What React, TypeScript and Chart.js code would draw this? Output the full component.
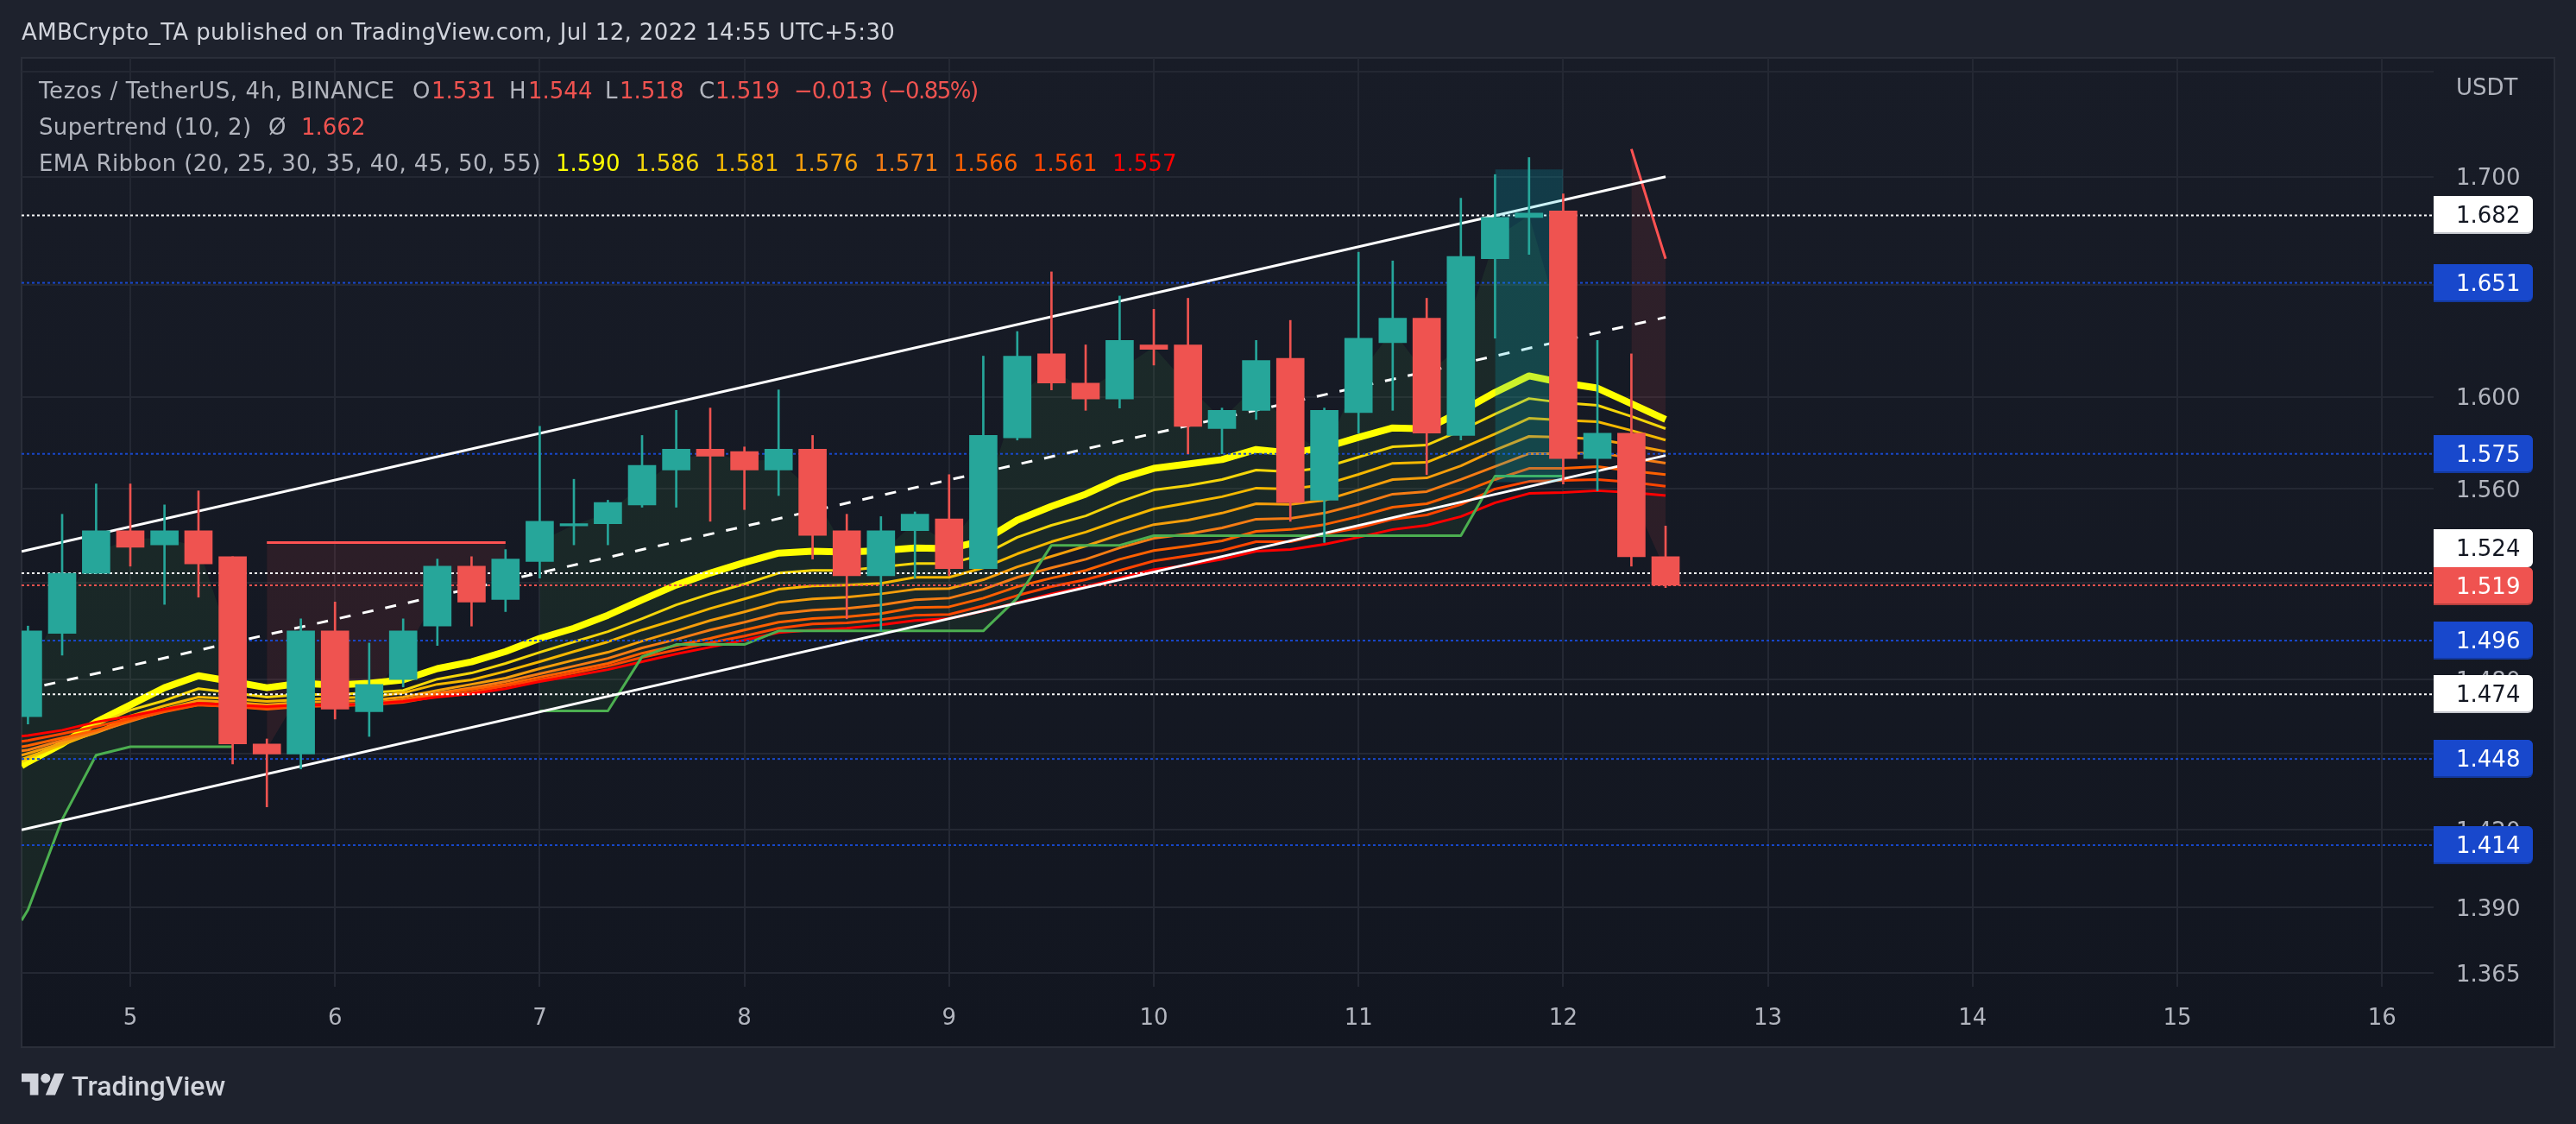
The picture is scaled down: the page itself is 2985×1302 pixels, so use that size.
import { useEffect, useRef } from "react";
import { Chart, registerables } from "chart.js";

Chart.register(...registerables);

const W = 2985;
const H = 1302;
const FONT = '"DejaVu Sans", sans-serif';

// 4h bars, in days of the month
const barDays = [
  4.5, 4.667, 4.833, 5, 5.167, 5.333, 5.5, 5.667, 5.833, 6, 6.167, 6.333, 6.5, 6.667, 6.833, 7, 7.167, 7.333, 7.5, 7.667,
  7.833, 8, 8.167, 8.333, 8.5, 8.667, 8.833, 9, 9.167, 9.333, 9.5, 9.667, 9.833, 10, 10.167, 10.333, 10.5, 10.667, 10.833,
  11, 11.167, 11.333, 11.5, 11.667, 11.833, 12, 12.167, 12.333, 12.5,
];
const opens = [
  1.465, 1.499, 1.524, 1.542, 1.536, 1.542, 1.531, 1.454, 1.45, 1.5, 1.467, 1.48, 1.502, 1.527, 1.513, 1.529, 1.544, 1.545,
  1.553, 1.568, 1.577, 1.576, 1.568, 1.577, 1.542, 1.523, 1.542, 1.547, 1.526, 1.582, 1.619, 1.606, 1.599, 1.623, 1.623,
  1.586, 1.594, 1.617, 1.555, 1.593, 1.624, 1.635, 1.583, 1.662, 1.681, 1.684, 1.573, 1.584, 1.531,
];
const highs = [
  1.502, 1.549, 1.562, 1.562, 1.553, 1.559, 1.531, 1.456, 1.505, 1.512, 1.495, 1.505, 1.53, 1.531, 1.534, 1.587, 1.564, 1.555,
  1.583, 1.594, 1.595, 1.578, 1.603, 1.583, 1.549, 1.548, 1.55, 1.566, 1.618, 1.629, 1.656, 1.623, 1.645, 1.639, 1.644,
  1.595, 1.625, 1.634, 1.595, 1.665, 1.661, 1.644, 1.69, 1.701, 1.709, 1.692, 1.625, 1.619, 1.544,
];
const lows = [
  1.462, 1.49, 1.524, 1.527, 1.511, 1.514, 1.446, 1.429, 1.444, 1.464, 1.457, 1.477, 1.494, 1.502, 1.508, 1.522, 1.536, 1.536,
  1.552, 1.552, 1.546, 1.551, 1.557, 1.53, 1.505, 1.5, 1.522, 1.523, 1.526, 1.581, 1.603, 1.594, 1.595, 1.614, 1.575, 1.575,
  1.59, 1.546, 1.537, 1.584, 1.594, 1.566, 1.581, 1.626, 1.664, 1.562, 1.559, 1.527, 1.518,
];
const closes = [
  1.5, 1.524, 1.542, 1.535, 1.542, 1.528, 1.454, 1.45, 1.5, 1.468, 1.478, 1.5, 1.527, 1.512, 1.53, 1.546, 1.545, 1.554, 1.57,
  1.577, 1.574, 1.568, 1.577, 1.54, 1.523, 1.542, 1.549, 1.526, 1.583, 1.618, 1.606, 1.599, 1.625, 1.621, 1.587, 1.594,
  1.616, 1.554, 1.594, 1.626, 1.635, 1.584, 1.663, 1.681, 1.683, 1.573, 1.584, 1.531, 1.519,
];

// line series start one point earlier, right on the left edge of the pane
const lineDays = [4.469, ...barDays];

const ema20 = [
  1.4453, 1.4468, 1.454, 1.4628, 1.4697, 1.4767, 1.4816, 1.4792, 1.4767, 1.4785, 1.4778, 1.4785, 1.4799, 1.4845, 1.4873,
  1.4915, 1.4969, 1.5011, 1.5065, 1.5129, 1.5191, 1.5241, 1.5285, 1.5325, 1.5333, 1.5329, 1.5336, 1.5347, 1.5344, 1.5377,
  1.5465, 1.5524, 1.5576, 1.5643, 1.5687, 1.5706, 1.5725, 1.5769, 1.5754, 1.5777, 1.5822, 1.5863, 1.5859, 1.5935, 1.6019,
  1.6092, 1.6061, 1.6038, 1.5969, 1.59,
];
const ema25 = [
  1.4468, 1.4478, 1.454, 1.4617, 1.4676, 1.4715, 1.4763, 1.4746, 1.4729, 1.4739, 1.4739, 1.4746, 1.4756, 1.4802, 1.4827,
  1.4866, 1.4912, 1.4955, 1.4997, 1.5051, 1.5108, 1.5154, 1.5195, 1.5241, 1.5252, 1.5252, 1.5267, 1.5281, 1.5281, 1.5318,
  1.5392, 1.5443, 1.5483, 1.5543, 1.5594, 1.5613, 1.5639, 1.568, 1.5672, 1.5691, 1.5736, 1.5781, 1.5788, 1.5852, 1.5924,
  1.5992, 1.5973, 1.5962, 1.5913, 1.586,
];
const ema30 = [
  1.4478, 1.4488, 1.4536, 1.4588, 1.4652, 1.4694, 1.4729, 1.4722, 1.4711, 1.4718, 1.4725, 1.4729, 1.4746, 1.4781, 1.4799,
  1.4834, 1.4873, 1.4915, 1.4955, 1.5004, 1.5047, 1.5093, 1.5133, 1.5173, 1.5187, 1.5191, 1.5198, 1.5223, 1.5223, 1.5263,
  1.5322, 1.5373, 1.5414, 1.5465, 1.5513, 1.5539, 1.5565, 1.5602, 1.5598, 1.5617, 1.5661, 1.5709, 1.5713, 1.5773, 1.5837,
  1.5905, 1.5897, 1.589, 1.5852, 1.581,
];
const ema35 = [
  1.4495, 1.4502, 1.4543, 1.4585, 1.4635, 1.468, 1.4715, 1.4708, 1.4697, 1.4708, 1.4711, 1.4715, 1.4729, 1.4756, 1.4781,
  1.4806, 1.4845, 1.488, 1.4912, 1.4958, 1.5, 1.5043, 1.5079, 1.5118, 1.5133, 1.514, 1.5154, 1.5173, 1.5176, 1.5213, 1.5267,
  1.5311, 1.5355, 1.5403, 1.5446, 1.5465, 1.5495, 1.5535, 1.5532, 1.555, 1.5594, 1.5639, 1.5646, 1.5698, 1.5766, 1.5826,
  1.5822, 1.5814, 1.5788, 1.576,
];
const ema40 = [
  1.4512, 1.4516, 1.4554, 1.4588, 1.4631, 1.4673, 1.4704, 1.4697, 1.469, 1.4697, 1.4697, 1.4704, 1.4718, 1.4746, 1.4767,
  1.4792, 1.4824, 1.4855, 1.4887, 1.493, 1.4965, 1.5004, 1.5036, 1.5072, 1.5086, 1.5093, 1.5108, 1.5129, 1.5136, 1.5173,
  1.5223, 1.5263, 1.5299, 1.5347, 1.5388, 1.5406, 1.5432, 1.5469, 1.5472, 1.5495, 1.5532, 1.5576, 1.5587, 1.5639, 1.5695,
  1.5751, 1.5751, 1.5755, 1.5732, 1.571,
];
const ema45 = [
  1.4529, 1.4533, 1.4564, 1.4595, 1.4635, 1.4669, 1.4697, 1.469, 1.468, 1.469, 1.4694, 1.4701, 1.4715, 1.4742, 1.476, 1.4781,
  1.481, 1.4838, 1.4866, 1.4908, 1.494, 1.4969, 1.5004, 1.5036, 1.5051, 1.5058, 1.5072, 1.5097, 1.51, 1.5136, 1.5184, 1.522,
  1.5252, 1.5299, 1.5336, 1.5355, 1.5377, 1.5417, 1.5425, 1.5446, 1.548, 1.552, 1.5535, 1.5583, 1.5639, 1.5687, 1.5687,
  1.5695, 1.5676, 1.566,
];
const ema50 = [
  1.455, 1.4554, 1.4581, 1.461, 1.4642, 1.4673, 1.4697, 1.469, 1.4683, 1.4694, 1.4694, 1.4697, 1.4708, 1.4732, 1.4749, 1.4774,
  1.4799, 1.4827, 1.4855, 1.4891, 1.4922, 1.4951, 1.4979, 1.5011, 1.5029, 1.5033, 1.5047, 1.5065, 1.5068, 1.5104, 1.5147,
  1.5184, 1.5213, 1.5252, 1.5292, 1.5314, 1.5336, 1.5373, 1.5373, 1.5406, 1.5432, 1.5469, 1.5487, 1.5532, 1.5598, 1.5631,
  1.5635, 1.5639, 1.5628, 1.561,
];
const ema55 = [
  1.4571, 1.4574, 1.4595, 1.4628, 1.4652, 1.468, 1.4704, 1.4697, 1.469, 1.4697, 1.4697, 1.4701, 1.4711, 1.4729, 1.4742, 1.4763,
  1.4792, 1.4816, 1.4841, 1.4873, 1.4905, 1.4933, 1.4962, 1.4993, 1.5004, 1.5011, 1.5025, 1.5043, 1.5051, 1.5082, 1.5118,
  1.5154, 1.5184, 1.522, 1.5256, 1.5274, 1.5299, 1.5333, 1.534, 1.5362, 1.5392, 1.5425, 1.5443, 1.548, 1.5539, 1.5579, 1.5583,
  1.5591, 1.5583, 1.557,
];
const emaSeries = [ema20, ema25, ema30, ema35, ema40, ema45, ema50, ema55];
const emaColors = ["#ffff00", "#f5d60a", "#f5b800", "#f59e0b", "#f57c14", "#ff6000", "#ff4500", "#ff0000"];

const n = null;
const supertrendUp = [
  1.385, 1.389, 1.424, 1.4495, 1.4529, 1.4529, 1.4529, 1.4529, n, n, n, n, n, n, n, n, 1.4673, 1.4673, 1.4673, 1.4894, 1.4944,
  1.4944, 1.4944, 1.5, 1.5, 1.5, 1.5, 1.5, 1.5, 1.5, 1.5136, 1.5358, 1.5358, 1.5358, 1.5399, 1.5399, 1.5399, 1.5399, 1.5399,
  1.5399, 1.5399, 1.5399, 1.5399, 1.5399, 1.5654, 1.5654, 1.5654, n, n, n,
].slice(0, 50);
const supertrendDown = [
  n, n, n, n, n, n, n, n, 1.537, 1.537, 1.537, 1.537, 1.537, 1.537, 1.537, 1.537, n, n, n, n, n, n, n, n, n, n, n, n, n, n, n, n,
  n, n, n, n, n, n, n, n, n, n, n, n, n, n, n, n, 1.713, 1.662,
];

// drawings on the chart
const channelDays = [4.469, 12.5];
const channelTop = [1.5332, 1.7];
const channelMid = [1.4756, 1.6354];
const channelBottom = [1.42, 1.5743];
const boxDays = [11.667, 12];
const boxTop = [1.7034, 1.7034];
const boxBottom = [1.5628, 1.5628];

const whiteLevels = [1.682, 1.524, 1.474];
const blueLevels = [1.651, 1.575, 1.496, 1.448, 1.414];
const lastPrice = [1.519];

const yTicks = [1.75, 1.7, 1.65, 1.6, 1.56, 1.52, 1.48, 1.45, 1.42, 1.39, 1.365];
const xTicks = [5, 6, 7, 8, 9, 10, 11, 12, 13, 14, 15, 16];

// shift: tradingview pushes overlapping labels apart
const priceTags = [
  { value: 1.682, bg: "#ffffff", lip: "#c4c6cc", fg: "#131722", shift: 0 },
  { value: 1.651, bg: "#1848cc", lip: "#13399f", fg: "#ffffff", shift: 0 },
  { value: 1.575, bg: "#1848cc", lip: "#13399f", fg: "#ffffff", shift: 0 },
  { value: 1.524, bg: "#ffffff", lip: "#ffffff", fg: "#131722", shift: -29 },
  { value: 1.519, bg: "#ef5350", lip: "#b5403e", fg: "#ffffff", shift: 1 },
  { value: 1.496, bg: "#1848cc", lip: "#13399f", fg: "#ffffff", shift: 0 },
  { value: 1.474, bg: "#ffffff", lip: "#c4c6cc", fg: "#131722", shift: 0 },
  { value: 1.448, bg: "#1848cc", lip: "#13399f", fg: "#ffffff", shift: 0 },
  { value: 1.414, bg: "#1848cc", lip: "#13399f", fg: "#ffffff", shift: 0 },
];

const GRAY = "#b2b5be";
const RED = "#ef5350";
const legendRows = [
  [
    { t: "Tezos / TetherUS, 4h, BINANCE", c: GRAY, x: 45, ls: 0.6 },
    { t: "O", c: GRAY, x: 478, ls: 0 },
    { t: "1.531", c: RED, x: 500, ls: 0 },
    { t: "H", c: GRAY, x: 590, ls: 0 },
    { t: "1.544", c: RED, x: 612, ls: 0 },
    { t: "L", c: GRAY, x: 701, ls: 0 },
    { t: "1.518", c: RED, x: 718, ls: 0 },
    { t: "C", c: GRAY, x: 810, ls: 0 },
    { t: "1.519", c: RED, x: 829, ls: 0 },
    { t: "−0.013", c: RED, x: 920, ls: -1 },
    { t: "(−0.85%)", c: RED, x: 1020, ls: -1.5 },
  ],
  [
    { t: "Supertrend (10, 2)", c: GRAY, x: 45, ls: 0.35 },
    { t: "Ø", c: GRAY, x: 311, ls: 0 },
    { t: "1.662", c: RED, x: 349, ls: 0 },
  ],
  [
    { t: "EMA Ribbon (20, 25, 30, 35, 40, 45, 50, 55)", c: GRAY, x: 45, ls: 0.4 },
    { t: "1.590", c: emaColors[0], x: 644, ls: 0 },
    { t: "1.586", c: emaColors[1], x: 736, ls: 0 },
    { t: "1.581", c: emaColors[2], x: 828, ls: 0 },
    { t: "1.576", c: emaColors[3], x: 920, ls: 0 },
    { t: "1.571", c: emaColors[4], x: 1013, ls: 0 },
    { t: "1.566", c: emaColors[5], x: 1105, ls: 0 },
    { t: "1.561", c: emaColors[6], x: 1197, ls: 0 },
    { t: "1.557", c: emaColors[7], x: 1289, ls: 0 },
  ],
];

const pts = (xs: number[], ys: (number | null)[]) => xs.map((x, i) => ({ x, y: ys[i] }));
const flat = (v: number) => [v, v];

const framePlugin = {
  id: "frame",
  beforeDraw(chart: any) {
    const { ctx } = chart;
    ctx.save();
    ctx.fillStyle = "#1e222d";
    ctx.fillRect(0, 0, W, H);
    const g = ctx.createLinearGradient(0, 67, 0, 1213);
    g.addColorStop(0, "#181c27");
    g.addColorStop(1, "#121620");
    ctx.fillStyle = g;
    ctx.fillRect(25, 67, 2935, 1146);
    ctx.strokeStyle = "#2a2e39";
    ctx.lineWidth = 2;
    ctx.strokeRect(25, 67, 2935, 1146);
    ctx.restore();
  },
};

const tagsPlugin = {
  id: "tags",
  afterDraw(chart: any) {
    const { ctx, scales } = chart;
    ctx.save();
    priceTags.forEach((t) => {
      const y = Math.round(scales.y.getPixelForValue(t.value)) + t.shift;
      ctx.fillStyle = t.lip;
      ctx.beginPath();
      ctx.roundRect(2820, y - 22, 115, 44, [0, 6, 6, 0]);
      ctx.fill();
      ctx.fillStyle = t.bg;
      ctx.beginPath();
      ctx.roundRect(2820, y - 22, 115, 42, [0, 6, 6, 0]);
      ctx.fill();
      ctx.fillStyle = t.fg;
      ctx.font = `26px ${FONT}`;
      ctx.textAlign = "left";
      ctx.textBaseline = "middle";
      ctx.fillText(t.value.toFixed(3), 2846, y + 2);
    });
    ctx.restore();
  },
};

export default function App() {
  const canvasRef = useRef<HTMLCanvasElement>(null);

  useEffect(() => {
    if (!canvasRef.current) return;
    const line = (xs: number[], ys: (number | null)[], extra: any) => ({
      type: "line",
      data: pts(xs, ys),
      pointRadius: 0,
      tension: 0,
      fill: false,
      borderJoinStyle: "round",
      ...extra,
    });
    const mids = opens.map((o, i) => (o + closes[i]) / 2);
    const midLine = [mids[0], ...mids];

    // index 0 is the body midline the supertrend fills reach up to
    const datasets: any[] = [
      line(lineDays, midLine, { borderWidth: 0, borderColor: "transparent", order: 90 }),
      line(lineDays, supertrendUp, {
        borderWidth: 0,
        borderColor: "transparent",
        fill: { target: 0, above: "rgba(76,175,80,0.1)", below: "rgba(76,175,80,0.1)" },
        order: 89,
      }),
      line(lineDays, supertrendDown, {
        borderWidth: 0,
        borderColor: "transparent",
        fill: { target: 0, above: "rgba(255,82,82,0.1)", below: "rgba(255,82,82,0.1)" },
        order: 88,
      }),
    ];
    emaSeries
      .slice()
      .reverse()
      .forEach((s, i) => {
        const idx = emaSeries.length - 1 - i;
        datasets.push(
          line(lineDays, s, { borderColor: emaColors[idx], borderWidth: idx === 0 ? 8 : 3, order: 60 + i })
        );
      });
    datasets.push(line(lineDays, supertrendUp, { borderColor: "#4caf50", borderWidth: 3, order: 50 }));
    datasets.push(line(lineDays, supertrendDown, { borderColor: "#ff5252", borderWidth: 3, order: 50 }));

    const paneEdges = [4.4688, 16.252];
    blueLevels.forEach((v) =>
      datasets.push(line(paneEdges, flat(v), { borderColor: "#1848cc", borderWidth: 2, borderDash: [3, 3], order: 40 }))
    );
    whiteLevels.forEach((v) =>
      datasets.push(line(paneEdges, flat(v), { borderColor: "#ffffff", borderWidth: 2, borderDash: [3, 3], order: 40 }))
    );
    lastPrice.forEach((v) =>
      datasets.push(line(paneEdges, flat(v), { borderColor: "#ef5350", borderWidth: 2, borderDash: [3, 3], order: 40 }))
    );

    datasets.push(line(channelDays, channelTop, { borderColor: "#ffffff", borderWidth: 3, order: 30 }));
    datasets.push(line(channelDays, channelBottom, { borderColor: "#ffffff", borderWidth: 3, order: 30 }));
    datasets.push(
      line(channelDays, channelMid, { borderColor: "#ffffff", borderWidth: 3, borderDash: [13, 14], order: 30 })
    );

    const boxBottomIndex = datasets.length;
    datasets.push(line(boxDays, boxBottom, { borderWidth: 0, borderColor: "transparent", order: 20 }));
    datasets.push(
      line(boxDays, boxTop, {
        borderWidth: 0,
        borderColor: "transparent",
        fill: { target: boxBottomIndex, above: "rgba(0,188,212,0.2)", below: "rgba(0,188,212,0.2)" },
        order: 20,
      })
    );

    const candleColors = opens.map((o, i) => (closes[i] >= o ? "#26a69a" : "#ef5350"));
    datasets.push({
      type: "bar",
      data: barDays.map((x, i) => ({ x, y: [lows[i], highs[i]] })),
      backgroundColor: candleColors,
      barThickness: 2,
      grouped: false,
      order: 2,
    });
    datasets.push({
      type: "bar",
      data: barDays.map((x, i) => ({ x, y: [opens[i], closes[i]] })),
      backgroundColor: candleColors,
      barThickness: 32,
      grouped: false,
      order: 1,
    });

    const chart = new Chart(canvasRef.current, {
      type: "bar",
      data: { datasets },
      plugins: [framePlugin, tagsPlugin],
      options: {
        animation: false,
        responsive: false,
        devicePixelRatio: 1,
        layout: { padding: { left: 25, top: 67, right: 25, bottom: 89 } },
        plugins: { legend: { display: false }, tooltip: { enabled: false }, title: { display: false } },
        scales: {
          x: {
            type: "linear",
            min: 4.4688,
            max: 16.252,
            offset: false,
            grid: { offset: false, color: "#242833", lineWidth: 2, drawTicks: false },
            border: { display: false },
            afterFit: (s: any) => {
              s.height = 70;
            },
            afterBuildTicks: (s: any) => {
              s.ticks = xTicks.map((value) => ({ value }));
            },
            ticks: {
              autoSkip: false,
              maxRotation: 0,
              color: GRAY,
              font: { family: FONT, size: 26 },
              padding: 22,
              callback: (v: any) => String(v),
            },
          },
          y: {
            type: "logarithmic",
            position: "right",
            min: 1.3599,
            max: 1.7566,
            grid: { color: "#242833", lineWidth: 2, drawTicks: false },
            border: { display: false },
            afterFit: (s: any) => {
              s.width = 140;
            },
            afterBuildTicks: (s: any) => {
              s.ticks = yTicks.map((value) => ({ value }));
            },
            ticks: {
              autoSkip: false,
              color: GRAY,
              font: { family: FONT, size: 26 },
              padding: 26,
              labelOffset: 3,
              callback: (v: any) => (v === 1.75 ? "" : Number(v).toFixed(3)),
            },
          },
        },
      },
    } as any);

    return () => {
      chart.destroy();
    };
  }, []);

  const txt = (left: number, top: number, size: number, color: string): React.CSSProperties => ({
    position: "absolute",
    left,
    top,
    fontFamily: FONT,
    fontSize: size,
    color,
    whiteSpace: "pre",
    lineHeight: 1,
  });

  return (
    <div style={{ position: "absolute", left: 0, top: 0, width: W, height: H, overflow: "hidden" }}>
      <canvas ref={canvasRef} width={W} height={H} style={{ display: "block", width: W, height: H }}></canvas>
      <div style={{ ...txt(25, 24, 26, "#d1d4dc"), letterSpacing: 0.37 }}>
        AMBCrypto_TA published on TradingView.com, Jul 12, 2022 14:55 UTC+5:30
      </div>
      {legendRows.map((row, r) =>
        row.map((p, i) => (
          <div key={r + "-" + i} style={{ ...txt(p.x, 92 + r * 42, 26, p.c), letterSpacing: p.ls }}>
            {p.t}
          </div>
        ))
      )}
      <div style={txt(2846, 88, 26, GRAY)}>USDT</div>
      <svg style={{ position: "absolute", left: 25, top: 1238 }} width="50" height="39" viewBox="0 0 36 28">
        <path fill="#d1d4dc" d="M14 22H7V11H0V4h14v18zM28 22h-8l7.5-18h8L28 22z" />
        <circle fill="#d1d4dc" cx="20" cy="8" r="4" />
      </svg>
      <div style={{ ...txt(83, 1242, 32, "#d1d4dc"), fontFamily: '"Roboto", sans-serif', fontWeight: 500 }}>TradingView</div>
    </div>
  );
}
